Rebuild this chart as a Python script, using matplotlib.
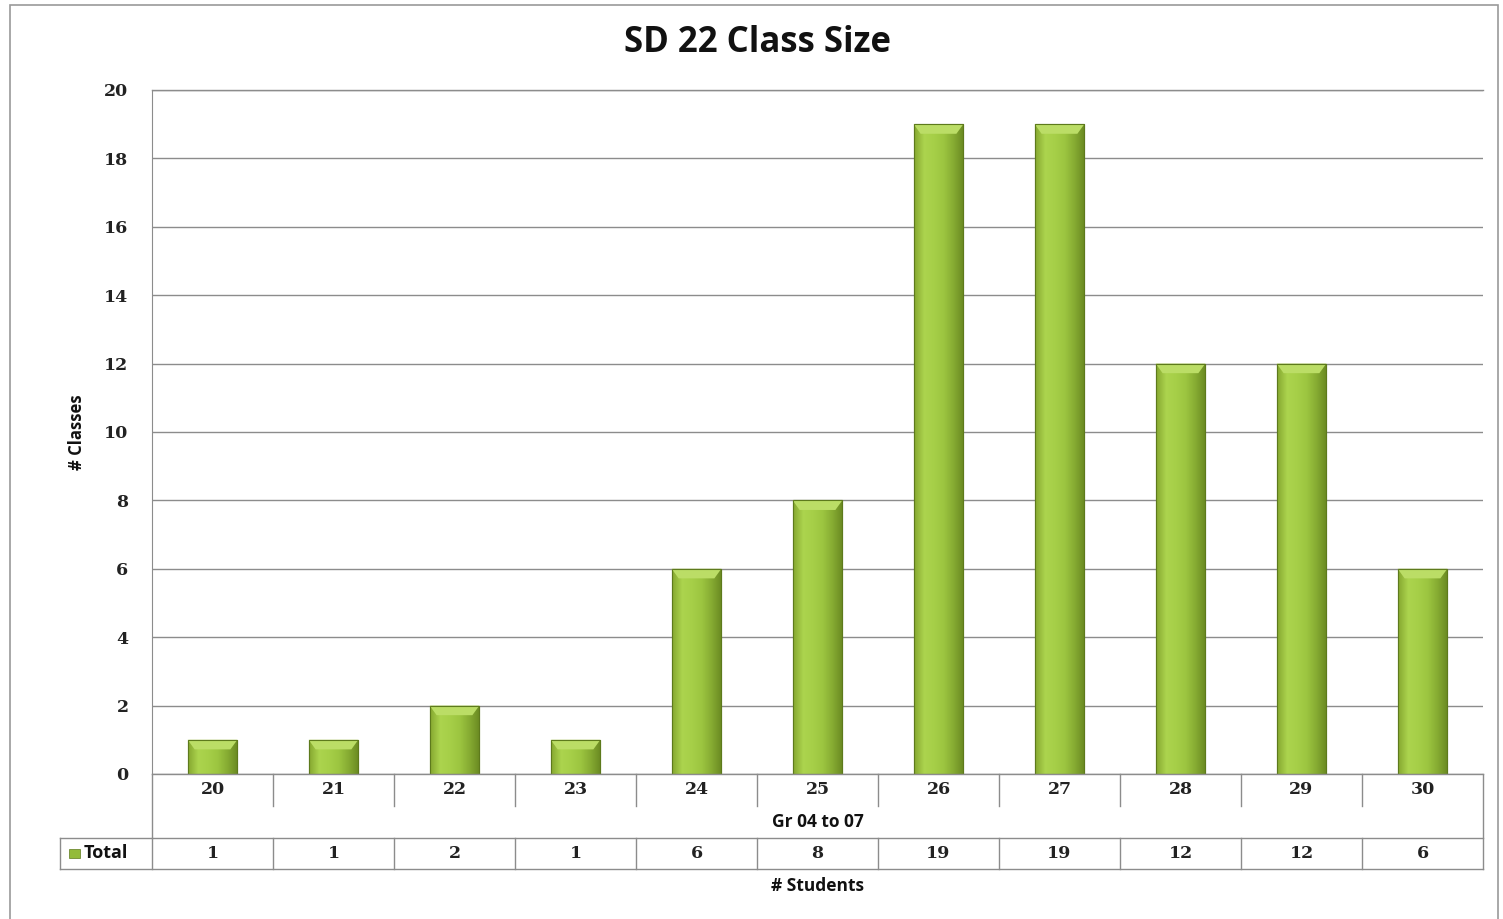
import numpy as np
import matplotlib
matplotlib.use("Agg")
from matplotlib import pyplot as plt
from matplotlib.patches import Rectangle, Polygon
from matplotlib.colors import LinearSegmentedColormap

# data
students = ['20', '21', '22', '23', '24', '25', '26', '27', '28', '29', '30']
classes = [1, 1, 2, 1, 6, 8, 19, 19, 12, 12, 6]
series_name = 'Total'
group_label = 'Gr 04 to 07'
title = 'SD 22 Class Size'

W, H = 1503, 919
fig = plt.figure(figsize=(W / 100, H / 100), dpi=100)
fig.patch.set_facecolor('white')

# outer chart border
fig.patches.append(Rectangle((10 / W, -0.02), 1488 / W, 1.02 - 5 / H,
                             transform=fig.transFigure, fill=False,
                             edgecolor='#9a9a9a', lw=1.2))

left, right, top, bottom = 152, 1483, 90, 774
ax = fig.add_axes([left / W, 1 - bottom / H, (right - left) / W, (bottom - top) / H])

grid_col = '#8c8c8c'
num_font = dict(family='DejaVu Serif', fontweight='bold', fontsize=12.5, color='#222222')
lbl_font = dict(family='Open Sans', fontweight='bold', color='#111111')

x = np.arange(len(students))
bars = ax.bar(x, classes, width=0.41, color='#93bb3a', edgecolor='#5d7a1c', lw=0.8, zorder=3)

# gradient fill for each bar
grad = LinearSegmentedColormap.from_list('g', ['#86a830', '#acd44e', '#a6cf48', '#9cc540', '#86ab32', '#6a8a22'])
gimg = np.linspace(0, 1, 64).reshape(1, -1)
for b in bars:
    x0, y0 = b.get_x(), b.get_y()
    w, h = b.get_width(), b.get_height()
    im = ax.imshow(gimg, cmap=grad, aspect='auto', extent=(x0, x0 + w, y0, y0 + h),
                   zorder=3.5, interpolation='bicubic')
    im.set_clip_path(b)
    # top bevel
    bh = min(0.28, h * 0.3)
    bw = w * 0.14
    ax.add_patch(Polygon([(x0, y0 + h), (x0 + w, y0 + h), (x0 + w - bw, y0 + h - bh), (x0 + bw, y0 + h - bh)],
                         closed=True, facecolor='#bbdd66', edgecolor='none', zorder=4))
    ax.add_patch(Rectangle((x0, y0), w, h, fill=False, edgecolor='#5d7a1c', lw=0.8, zorder=4.5))

ax.set_xlim(-0.5, len(students) - 0.5)
ax.set_ylim(0, 20)
ax.set_yticks(range(0, 21, 2))
ax.set_yticklabels([str(v) for v in range(0, 21, 2)], **num_font)
ax.set_xticks([])
ax.tick_params(axis='y', length=0, pad=17)
for s in ['top', 'right', 'bottom']:
    ax.spines[s].set_visible(False)
ax.spines['left'].set_color(grid_col)
ax.grid(axis='y', color=grid_col, lw=1, zorder=0)
ax.set_axisbelow(True)
ax.axhline(20, color=grid_col, lw=1, zorder=0, clip_on=False)
ax.axhline(0, color=grid_col, lw=1, zorder=5, clip_on=False)

ax.set_ylabel('# Classes', fontsize=12, **lbl_font)
ax.yaxis.set_label_coords((86 - left) / (right - left), 0.5)

# data table below the axis
n = len(students)
ph = bottom - top
r1 = -32 / ph
r2 = -64 / ph
r3 = -95 / ph
lx = (60 - left) / (right - left)
kw = dict(transform=ax.transAxes, clip_on=False, color=grid_col, lw=1)
ax.plot([0, 0], [0, r2], **kw)
ax.plot([1, 1], [0, r3], **kw)
for i in range(1, n):
    ax.plot([i / n, i / n], [0, r1], **kw)
    ax.plot([i / n, i / n], [r2, r3], **kw)
ax.plot([lx, 1], [r2, r2], **kw)
ax.plot([lx, 1], [r3, r3], **kw)
ax.plot([lx, lx], [r2, r3], **kw)
ax.plot([0, 0], [r2, r3], **kw)

for i, (s, c) in enumerate(zip(students, classes)):
    ax.text((i + 0.5) / n, r1 / 2, s, transform=ax.transAxes, ha='center', va='center', **num_font)
    ax.text((i + 0.5) / n, (r2 + r3) / 2, str(c), transform=ax.transAxes, ha='center', va='center', **num_font)

ax.text(0.5, (r1 + r2) / 2, group_label, transform=ax.transAxes, ha='center', va='center',
        fontsize=12.5, **lbl_font)
ax.add_patch(Rectangle((lx + 0.007, (r2 + r3) / 2 - 0.006), 0.008, 0.013, transform=ax.transAxes,
                       clip_on=False, facecolor='#93bb3a', edgecolor='#5d7a1c', lw=0.5))
ax.text(lx + 0.018, (r2 + r3) / 2, series_name, transform=ax.transAxes, ha='left', va='center',
        fontsize=13, **lbl_font)

fig.text(818 / W, 1 - 886 / H, '# Students', ha='center', va='center', fontsize=12.5, **lbl_font)
fig.text(758 / W, 1 - 43 / H, title, ha='center', va='center', fontsize=25, **lbl_font)

fig.savefig('out.png', dpi=100)
